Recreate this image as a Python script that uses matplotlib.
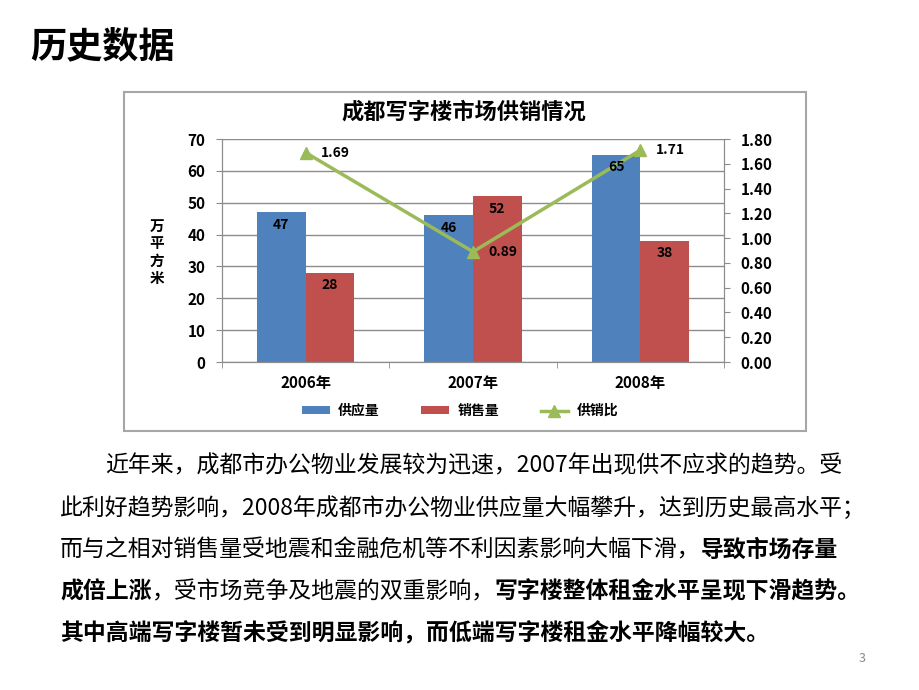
import numpy as np
import matplotlib
matplotlib.use('Agg')
import matplotlib.pyplot as plt
from matplotlib.patches import Rectangle

plt.rcParams['font.family'] = ['Noto Sans CJK SC', 'DejaVu Sans']

years = ['2006年', '2007年', '2008年']
supply = [47, 46, 65]        # 供应量, 万平方米
sales = [28, 52, 38]         # 销售量, 万平方米
ratio = [1.69, 0.89, 1.71]   # 供销比

paragraph = [
    [('近年来，成都市办公物业发展较为迅速，2007年出现供不应求的趋势。受', False)],
    [('此利好趋势影响，2008年成都市办公物业供应量大幅攀升，达到历史最高水平；', False)],
    [('而与之相对销售量受地震和金融危机等不利因素影响大幅下滑，', False), ('导致市场存量', True)],
    [('成倍上涨', True), ('，受市场竞争及地震的双重影响，', False), ('写字楼整体租金水平呈现下滑趋势。', True)],
    [('其中高端写字楼暂未受到明显影响，而低端写字楼租金水平降幅较大。', True)],
]

blue = '#4F81BD'
red = '#C0504D'
green = '#9BBB59'
grid_c = '#8C8C8C'

fig = plt.figure(figsize=(9.2, 6.9), dpi=100)

# slide title
fig.text(30 / 920, 1 - 47 / 690, '历史数据', fontsize=26, fontweight='bold', va='center', ha='left')

# chart frame
fig.patches.append(Rectangle((124 / 920, 1 - 431 / 690), 682 / 920, 339 / 690,
                             transform=fig.transFigure, fill=False, edgecolor='#A6A6A6', lw=1.5))

fig.text(464 / 920, 1 - 112 / 690, '成都写字楼市场供销情况', fontsize=16, fontweight='bold',
         ha='center', va='center')

ax = fig.add_axes([222 / 920, 1 - 362 / 690, 502 / 920, 223 / 690])
x = np.arange(len(years))
w = 0.29
b1 = ax.bar(x - w / 2, supply, w, color=blue, label='供应量', zorder=2)
b2 = ax.bar(x + w / 2, sales, w, color=red, label='销售量', zorder=2)

ax.set_xlim(-0.5, 2.5)
ax.set_ylim(0, 70)
ax.set_yticks(range(0, 71, 10))
ax.set_xticks(x)
ax.set_xticklabels(years, fontsize=11, fontweight='bold')
ax.set_xticks([-0.5, 0.5, 1.5, 2.5], minor=True)
ax.tick_params(axis='x', which='major', length=0, pad=9)
ax.tick_params(axis='x', which='minor', length=4, direction='out', color=grid_c)
ax.tick_params(axis='y', labelsize=11, length=4, color=grid_c, pad=8)
for lab in ax.get_yticklabels():
    lab.set_fontweight('bold')
ax.yaxis.grid(True, color=grid_c, lw=1, zorder=0)
ax.set_axisbelow(True)
ax.spines['top'].set_visible(False)
for s in ('left', 'bottom', 'right'):
    ax.spines[s].set_color(grid_c)

ax2 = ax.twinx()
ln, = ax2.plot(x, ratio, color=green, lw=2.5, marker='^', markersize=8, label='供销比', zorder=3)
for xi, v in zip(x, ratio):
    ax2.annotate(f'{v:.2f}', (xi, v), xytext=(11, 0), textcoords='offset points',
                 ha='left', va='center', fontsize=10, fontweight='bold')
# bar value labels drawn on top of the line
for bars in (b1, b2):
    for rect in bars:
        ax2.annotate(f'{rect.get_height():.0f}', (rect.get_x() + rect.get_width() / 2, rect.get_height()),
                     xycoords=ax.transData, xytext=(0, -9), textcoords='offset points',
                     ha='center', va='center', fontsize=10, fontweight='bold', zorder=5)
ax2.set_ylim(0, 1.8)
ax2.set_yticks(np.arange(0, 1.81, 0.2))
ax2.set_yticklabels([f'{t:.2f}' for t in np.arange(0, 1.81, 0.2)], fontsize=11, fontweight='bold')
ax2.tick_params(axis='y', length=4, color=grid_c, pad=8)
ax2.spines['top'].set_visible(False)
for s in ('left', 'bottom', 'right'):
    ax2.spines[s].set_color(grid_c)

fig.text(157 / 920, 1 - 252 / 690, '万\n平\n方\n米', fontsize=10.5, fontweight='bold',
         ha='center', va='center', linespacing=1.1)

fig.legend(handles=[b1, b2, ln], loc='center', bbox_to_anchor=(460 / 920, 1 - 411 / 690),
           ncol=3, frameon=False, prop={'size': 10, 'weight': 'bold'},
           handlelength=2.0, handleheight=0.5, handletextpad=0.6, columnspacing=3.0)

# paragraph with mixed bold runs
renderer = fig.canvas.get_renderer()
line_y = [466, 508, 550, 592, 634]
for i, (runs, yy) in enumerate(zip(paragraph, line_y)):
    xx = (105 if i == 0 else 60) / 920
    for s, bold in runs:
        t = fig.text(xx, 1 - yy / 690, s, fontsize=16.5, fontweight='bold' if bold else 'normal',
                     ha='left', va='center')
        bb = t.get_window_extent(renderer=renderer)
        xx += bb.width / fig.bbox.width

fig.text(862 / 920, 1 - 658 / 690, '3', fontsize=9, color='#888888', ha='center', va='center')

fig.savefig('out.png', dpi=100)
